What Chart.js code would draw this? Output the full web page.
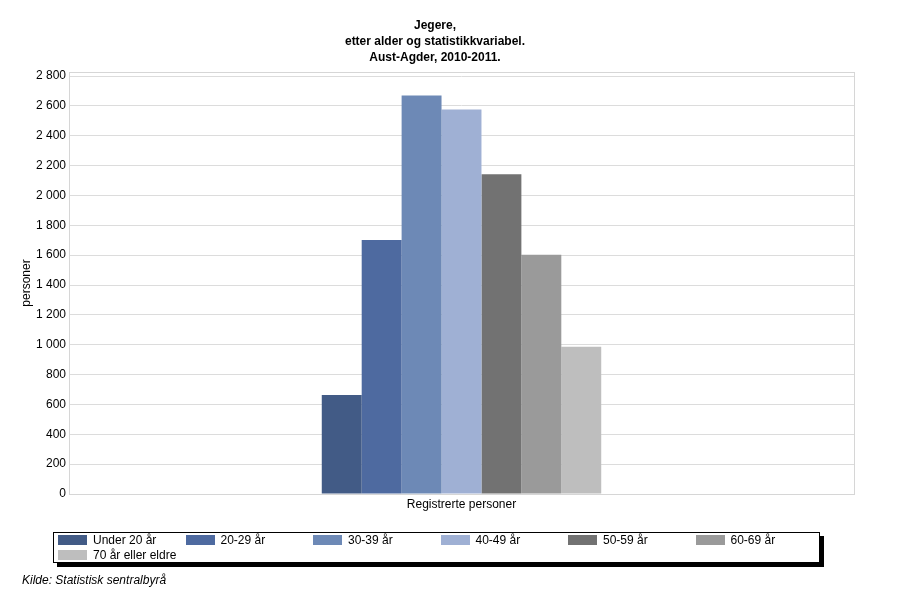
<!DOCTYPE html>
<html>
<head>
<meta charset="utf-8">
<script src="https://cdn.jsdelivr.net/npm/chart.js@4/dist/chart.umd.min.js"></script>
<style>
  html, body { margin: 0; padding: 0; background: #fff; }
  #wrap { position: relative; width: 900px; height: 600px; font-family: "Liberation Sans", Arial, sans-serif; color: #000; }
  canvas { position: absolute; left: 0; top: 0; }
  .title { position: absolute; left: 235px; width: 400px; text-align: center; font-weight: bold; font-size: 12px; line-height: 16px; top: 17px; }
  #legend { position: absolute; left: 53px; top: 532px; width: 765px; height: 29px; border: 1px solid #000; box-shadow: 4px 4px 0 #000; background: #fff; }
  .item { position: absolute; height: 15px; font-size: 12px; line-height: 15px; white-space: nowrap; }
  .sw { position: absolute; left: 0; top: 2px; width: 29px; height: 10px; }
  .lbl { position: absolute; left: 35px; top: 0; }
  #kilde { position: absolute; left: 22px; top: 572px; font-size: 12px; font-style: italic; line-height: 16px; }
</style>
</head>
<body>
<div id="wrap">
  <canvas id="c" width="900" height="600"></canvas>
  <div class="title">Jegere,<br>etter alder og statistikkvariabel.<br>Aust-Agder, 2010-2011.</div>
  <div id="legend"></div>
  <div id="kilde">Kilde: Statistisk sentralbyrå</div>
</div>
<script>
const categories = ["Registrerte personer"];
const seriesNames = ["Under 20 år", "20-29 år", "30-39 år", "40-49 år", "50-59 år", "60-69 år", "70 år eller eldre"];
const seriesValues = [664, 1702, 2670, 2575, 2142, 1602, 986];
const seriesColors = ["#425b86", "#4e6aa0", "#6d89b6", "#9fb0d4", "#727272", "#9a9a9a", "#bebebe"];
const yTickValues = [0, 200, 400, 600, 800, 1000, 1200, 1400, 1600, 1800, 2000, 2200, 2400, 2600, 2800];
const yAxisTitle = "personer";

function fmt(v) {
  return String(v).replace(/\B(?=(\d{3})+(?!\d))/g, " ");
}

const frame = {
  id: 'frame',
  afterDraw(chart) {
    const a = chart.chartArea, ctx = chart.ctx;
    ctx.save();
    ctx.strokeStyle = '#d6d6d6';
    ctx.lineWidth = 1;
    ctx.strokeRect(Math.round(a.left) + 0.5, Math.round(a.top) + 0.5, Math.round(a.right - a.left), Math.round(a.bottom - a.top));
    ctx.restore();
  }
};

const datasets = seriesNames.map((n, i) => ({
  label: n,
  data: [seriesValues[i]],
  backgroundColor: seriesColors[i],
  borderWidth: 0,
  categoryPercentage: 0.356,
  barPercentage: 1.0
}));

new Chart(document.getElementById('c'), {
  type: 'bar',
  data: { labels: categories, datasets },
  options: {
    responsive: false,
    animation: false,
    devicePixelRatio: 1,
    layout: { padding: { top: 72, right: 46, bottom: 86, left: 0 } },
    plugins: { legend: { display: false }, title: { display: false }, tooltip: { enabled: false } },
    scales: {
      x: {
        grid: { display: false, drawTicks: false },
        border: { display: false },
        ticks: { color: '#000', font: { family: 'Liberation Sans', size: 12 }, padding: 3 },
        afterFit(s) { s.height = 20; s.paddingLeft = 0; s.paddingRight = 0; }
      },
      y: {
        min: 0,
        max: 2827,
        grid: { color: '#dcdcdc', drawTicks: false },
        border: { display: false },
        ticks: {
          color: '#000',
          font: { family: 'Liberation Sans', size: 12 },
          padding: 3,
          callback: (v) => fmt(v)
        },
        afterBuildTicks(s) { s.ticks = yTickValues.map(v => ({ value: v })); },
        title: { display: true, text: yAxisTitle, color: '#000', font: { family: 'Liberation Sans', size: 12 }, padding: { top: 19, bottom: 0 } },
        afterFit(s) { s.width = 69; s.paddingTop = 0; s.paddingBottom = 0; }
      }
    }
  },
  plugins: [frame]
});

const legend = document.getElementById('legend');
seriesNames.forEach((n, i) => {
  const col = i % 6, row = Math.floor(i / 6);
  const it = document.createElement('div');
  it.className = 'item';
  it.style.left = (4 + col * 127.5) + 'px';
  it.style.top = (0 + row * 15) + 'px';
  const sw = document.createElement('div');
  sw.className = 'sw';
  sw.style.background = seriesColors[i];
  const lb = document.createElement('span');
  lb.className = 'lbl';
  lb.textContent = n;
  it.appendChild(sw); it.appendChild(lb);
  legend.appendChild(it);
});
</script>
</body>
</html>
